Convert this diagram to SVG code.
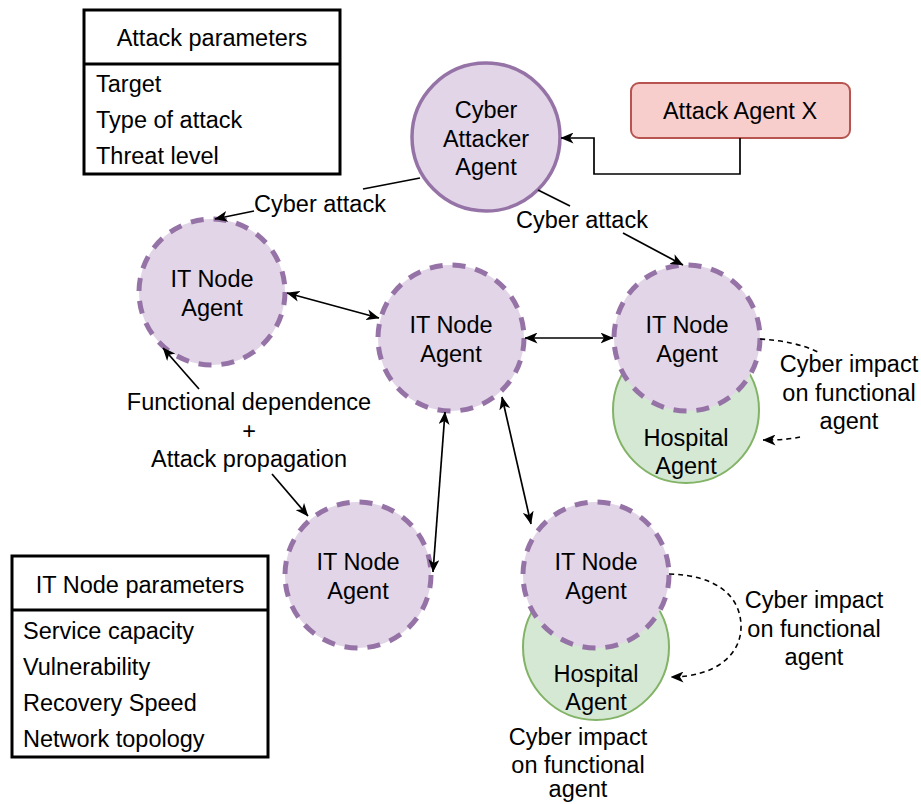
<svg xmlns="http://www.w3.org/2000/svg" width="921" height="804" viewBox="0 0 921 804">
<style>
text{font-family:"Liberation Sans",Arial,Helvetica,sans-serif;font-size:23.5px;fill:#000}
.c{text-anchor:middle}
.it{fill:#e1d5e7;stroke:#9673a6;stroke-width:5;stroke-dasharray:13 10}
.hosp{fill:#d5e8d4;stroke:#82b366;stroke-width:2}
.edge{fill:none;stroke:#000;stroke-width:1.7}
.dash{fill:none;stroke:#000;stroke-width:1.6;stroke-dasharray:5 4}
.box{fill:#fff;stroke:#000;stroke-width:3}
</style>
<defs>
<marker id="arr" viewBox="0 0 13 11" refX="12.5" refY="5.5" markerWidth="13" markerHeight="11" markerUnits="userSpaceOnUse" orient="auto-start-reverse">
<path d="M0,0 L13,5.5 L0,11 L3.5,5.5 z" fill="#000"/>
</marker>
</defs>
<rect width="921" height="804" fill="#fff"/>

<g id="attack-params">
<rect class="box" x="84" y="10" width="256" height="164"/>
<line x1="84" y1="64" x2="340" y2="64" stroke="#000" stroke-width="3"/>
<text class="c" x="212" y="46">Attack parameters</text>
<text x="96" y="92">Target</text>
<text x="96" y="128">Type of attack</text>
<text x="96" y="164">Threat level</text>
</g>

<g id="itnode-params">
<rect class="box" x="12" y="556" width="256" height="201"/>
<line x1="12" y1="610" x2="268" y2="610" stroke="#000" stroke-width="3"/>
<text class="c" x="140" y="593">IT Node parameters</text>
<text x="23" y="639">Service capacity</text>
<text x="23" y="675">Vulnerability</text>
<text x="23" y="711">Recovery Speed</text>
<text x="23" y="747">Network topology</text>
</g>

<g id="attack-agent-x">
<rect x="631" y="83" width="219" height="55" rx="8" fill="#f8cecc" stroke="#b85450" stroke-width="2"/>
<text class="c" x="740" y="119">Attack Agent X</text>
</g>

<g id="cyber-attacker">
<circle cx="486" cy="137" r="74" fill="#e1d5e7" stroke="#9673a6" stroke-width="3.5"/>
<text class="c" x="486" y="118">Cyber</text>
<text class="c" x="486" y="147">Attacker</text>
<text class="c" x="486" y="175">Agent</text>
</g>

<g id="hospital-1">
<circle class="hosp" cx="686" cy="410" r="73"/>
<text class="c" x="686" y="446">Hospital</text>
<text class="c" x="686" y="474">Agent</text>
</g>

<g id="hospital-2">
<circle class="hosp" cx="596" cy="647" r="73"/>
<text class="c" x="596" y="682">Hospital</text>
<text class="c" x="596" y="710">Agent</text>
</g>

<g id="it-node-topleft">
<circle class="it" cx="212" cy="292" r="73"/>
<text class="c" x="212" y="287">IT Node</text>
<text class="c" x="212" y="316">Agent</text>
</g>

<g id="it-node-center">
<circle class="it" cx="451" cy="338" r="73"/>
<text class="c" x="451" y="333">IT Node</text>
<text class="c" x="451" y="362">Agent</text>
</g>

<g id="it-node-right">
<circle class="it" cx="687" cy="338" r="73"/>
<text class="c" x="687" y="333">IT Node</text>
<text class="c" x="687" y="362">Agent</text>
</g>

<g id="it-node-bottomleft">
<circle class="it" cx="358" cy="575" r="73"/>
<text class="c" x="358" y="570">IT Node</text>
<text class="c" x="358" y="599">Agent</text>
</g>

<g id="it-node-bottomright">
<circle class="it" cx="596" cy="575" r="73"/>
<text class="c" x="596" y="570">IT Node</text>
<text class="c" x="596" y="599">Agent</text>
</g>

<g id="connectors">
<path class="edge" d="M740,138 V174 H594 V138 H561" marker-end="url(#arr)"/>
<path class="edge" d="M420,178 L363,189"/>
<path class="edge" d="M254,211 L215,219" marker-end="url(#arr)"/>
<text class="c" x="320" y="212">Cyber attack</text>
<path class="edge" d="M538,190 L570,206"/>
<path class="edge" d="M623,233 L683,265" marker-end="url(#arr)"/>
<text class="c" x="582" y="228">Cyber attack</text>
<path class="edge" d="M287,293 L379,318" marker-start="url(#arr)" marker-end="url(#arr)"/>
<path class="edge" d="M525,338 L613,338" marker-start="url(#arr)" marker-end="url(#arr)"/>
<path class="edge" d="M445,412 L433,572" marker-start="url(#arr)" marker-end="url(#arr)"/>
<path class="edge" d="M502,397 L531,524" marker-start="url(#arr)" marker-end="url(#arr)"/>
<path class="edge" d="M199,389 L163,348" marker-end="url(#arr)"/>
<path class="edge" d="M272,474 L308,516" marker-end="url(#arr)"/>
<text class="c" x="249" y="410">Functional dependence</text>
<text class="c" x="249" y="439">+</text>
<text class="c" x="249" y="467">Attack propagation</text>
<path class="dash" d="M760,339 Q795,341 818,352"/>
<path class="dash" d="M800,437 Q788,440 763,440" marker-end="url(#arr)"/>
<text class="c" x="849" y="372">Cyber impact</text>
<text class="c" x="849" y="401">on functional</text>
<text class="c" x="849" y="429">agent</text>
<path class="dash" d="M669,574 C715,575 740,595 741,625 C742,655 715,677 671,677" marker-end="url(#arr)"/>
<text class="c" x="814" y="608">Cyber impact</text>
<text class="c" x="814" y="637">on functional</text>
<text class="c" x="814" y="665">agent</text>
<text class="c" x="578" y="745">Cyber impact</text>
<text class="c" x="578" y="773">on functional</text>
<text class="c" x="578" y="797">agent</text>
</g>
</svg>
